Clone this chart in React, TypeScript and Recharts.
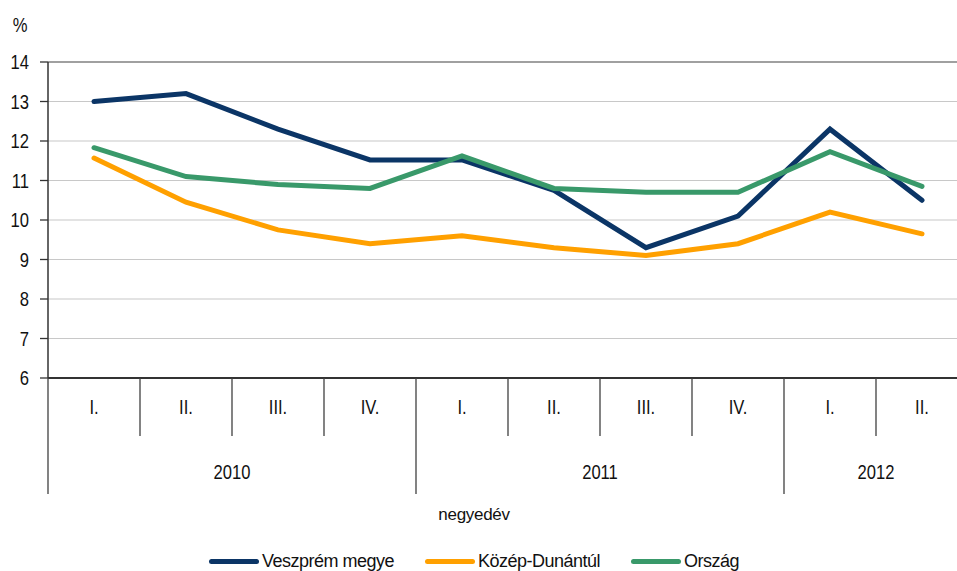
import React from 'react';
import { LineChart, Line, XAxis, YAxis, CartesianGrid, ReferenceLine } from 'recharts';

const QUARTERS = ['I.', 'II.', 'III.', 'IV.', 'I.', 'II.', 'III.', 'IV.', 'I.', 'II.'];
const YEARS = ['2010', '2010', '2010', '2010', '2011', '2011', '2011', '2011', '2012', '2012'];
const VESZPREM = [13.0, 13.2, 12.3, 11.52, 11.52, 10.75, 9.3, 10.1, 12.3, 10.5];
const KOZEP_DUNANTUL = [11.57, 10.45, 9.75, 9.4, 9.6, 9.3, 9.1, 9.4, 10.2, 9.65];
const ORSZAG = [11.83, 11.1, 10.9, 10.8, 11.62, 10.8, 10.7, 10.7, 11.73, 10.85];
const Y_TICKS = [6, 7, 8, 9, 10, 11, 12, 13, 14];
const SERIES = [
  { key: 'veszprem', name: 'Veszprém megye', color: '#0b3566', values: VESZPREM },
  { key: 'kozep', name: 'Közép-Dunántúl', color: '#ffa000', values: KOZEP_DUNANTUL },
  { key: 'orszag', name: 'Ország', color: '#39996a', values: ORSZAG },
];
const AXIS_TITLE = 'negyedév';
const UNIT = '%';

const data = QUARTERS.map((q, i) => {
  const row: any = { key: YEARS[i] + ' ' + q, quarter: q, year: YEARS[i] };
  SERIES.forEach((s) => { row[s.key] = s.values[i]; });
  return row;
});

const CHART_W = 980;
const CHART_H = 571;
const MARGIN = { top: 62, right: 12, left: 0, bottom: 73 };
const Y_W = 48;
const X_H = 120;
const PLOT_W = CHART_W - MARGIN.left - MARGIN.right - Y_W;
const BW = PLOT_W / data.length;
const FONT = '"Liberation Sans", Arial, sans-serif';
const SX = 0.83;

const CText = ({ x, y, anchor = 'middle', size = 20, children }: any) => (
  <text
    transform={`translate(${x},${y}) scale(${SX},1)`}
    x={0}
    y={0}
    textAnchor={anchor}
    dominantBaseline="central"
    fontSize={size}
    fontFamily={FONT}
    fill="#111"
  >
    {children}
  </text>
);

const XTick = (props: any) => {
  const { x, y, index } = props;
  const yearStart = index === 0 || YEARS[index] !== YEARS[index - 1];
  let count = 0;
  if (yearStart) {
    for (let j = index; j < YEARS.length && YEARS[j] === YEARS[index]; j++) count++;
  }
  const left = x - BW / 2;
  return (
    <g>
      <line x1={left} x2={left} y1={y} y2={y + (yearStart ? 116 : 58)} stroke="#404040" strokeWidth={1.3} />
      <CText x={x} y={y + 29}>{QUARTERS[index]}</CText>
      {yearStart && <CText x={left + (count * BW) / 2} y={y + 94}>{YEARS[index]}</CText>}
    </g>
  );
};

const YTick = (props: any) => {
  const { x, y, payload } = props;
  return <CText x={x} y={y} anchor="end">{payload.value}</CText>;
};

export default function App() {
  return (
    <div style={{ position: 'absolute', left: 0, top: 0, width: 957, height: 571, overflow: 'hidden', background: '#fff' }}>
      <LineChart width={CHART_W} height={CHART_H} data={data} margin={MARGIN}>
        <CartesianGrid vertical={false} stroke="#c8c8c8" strokeWidth={1.2} />
        <ReferenceLine y={14} stroke="#8a8a8a" strokeWidth={1.5} />
        <XAxis
          dataKey="key"
          scale="band"
          height={X_H}
          interval={0}
          tickLine={false}
          tickSize={0}
          tickMargin={0}
          axisLine={{ stroke: '#333', strokeWidth: 2 }}
          tick={<XTick />}
        />
        <YAxis
          width={Y_W}
          domain={[6, 14]}
          ticks={Y_TICKS}
          interval={0}
          tickSize={8}
          tickMargin={11}
          axisLine={{ stroke: '#333', strokeWidth: 1.5 }}
          tickLine={{ stroke: '#333', strokeWidth: 1.3 }}
          tick={<YTick />}
          label={(p: any) => <CText x={20} y={25} size={20}>{UNIT}</CText>}
        />
        {SERIES.map((s) => (
          <Line
            key={s.key}
            dataKey={s.key}
            name={s.name}
            type="linear"
            stroke={s.color}
            strokeWidth={5}
            strokeLinecap="round"
            strokeLinejoin="miter"
            dot={false}
            activeDot={false}
            isAnimationActive={false}
          />
        ))}
      </LineChart>
      <div style={{ position: 'absolute', left: 0, top: 503, width: 948, textAlign: 'center', fontFamily: FONT, fontSize: 17, letterSpacing: '-0.3px', lineHeight: '24px', color: '#111' }}>
        {AXIS_TITLE}
      </div>
      <div style={{ position: 'absolute', left: 0, top: 549, width: 948, display: 'flex', justifyContent: 'center', alignItems: 'center', fontFamily: FONT, fontSize: 18, letterSpacing: '-0.5px', lineHeight: '24px', color: '#111' }}>
        {SERIES.map((s, i) => (
          <div key={s.key} style={{ display: 'flex', alignItems: 'center', marginLeft: i === 0 ? 0 : 31 }}>
            <div style={{ width: 50, height: 5, borderRadius: 3, background: s.color, marginRight: 3 }} />
            <span>{s.name}</span>
          </div>
        ))}
      </div>
    </div>
  );
}
